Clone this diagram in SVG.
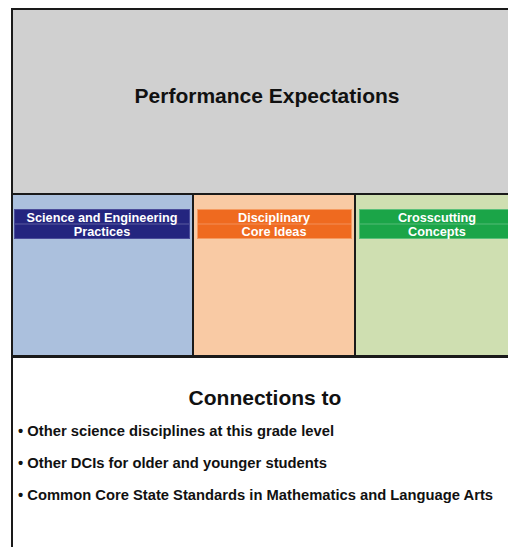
<svg xmlns="http://www.w3.org/2000/svg" width="508" height="547" viewBox="0 0 508 547">
<style>
.t{font-family:"Liberation Sans",Arial,sans-serif;font-weight:bold}
.lbl{font-family:"Liberation Sans",Arial,sans-serif;font-weight:bold;font-size:12.7px;fill:#fff;text-anchor:middle}
.b{font-family:"Liberation Sans",Arial,sans-serif;font-weight:bold;font-size:14.3px;fill:#111}
.sep{stroke:#fff;stroke-opacity:0.25;stroke-width:1}
</style>
<rect x="0" y="0" width="508" height="547" fill="#fff"/>
<g id="performance-expectations">
<rect x="12" y="9" width="510" height="185" fill="#d0d0d0" stroke="#1a1a1a" stroke-width="2"/>
<text class="t" x="267" y="103" font-size="21" text-anchor="middle" fill="#111">Performance Expectations</text>
</g>
<g id="science-engineering-practices">
<rect x="12" y="194" width="181" height="162" fill="#abc0dd" stroke="#1a1a1a" stroke-width="2"/>
<rect x="14.5" y="209.5" width="175" height="29" fill="#24257f" stroke="#4a4c9a" stroke-width="1"/>
<line class="sep" x1="15" y1="224" x2="189" y2="224"/>
<text class="lbl" x="102" y="222">Science and Engineering</text>
<text class="lbl" x="102" y="236">Practices</text>
</g>
<g id="disciplinary-core-ideas">
<rect x="193" y="194" width="162" height="162" fill="#f9caa4" stroke="#1a1a1a" stroke-width="2"/>
<rect x="197.5" y="209.5" width="154" height="29" fill="#ef6a1f" stroke="#f59a60" stroke-width="1"/>
<line class="sep" x1="198" y1="224" x2="351" y2="224"/>
<text class="lbl" x="274" y="222">Disciplinary</text>
<text class="lbl" x="274" y="236">Core Ideas</text>
</g>
<g id="crosscutting-concepts">
<rect x="355" y="194" width="167" height="162" fill="#cfdfb1" stroke="#1a1a1a" stroke-width="2"/>
<rect x="359.5" y="209.5" width="160" height="29" fill="#1ba548" stroke="#5ac07a" stroke-width="1"/>
<line class="sep" x1="360" y1="224" x2="519" y2="224"/>
<text class="lbl" x="437" y="222">Crosscutting</text>
<text class="lbl" x="437" y="236">Concepts</text>
</g>
<g id="connections-to">
<rect x="12" y="357" width="510" height="200" fill="#fff" stroke="#1a1a1a" stroke-width="2"/>
<line x1="12" y1="356.5" x2="508" y2="356.5" stroke="#1a1a1a" stroke-width="3"/>
<text class="t" x="265" y="405" font-size="21" text-anchor="middle" fill="#111">Connections to</text>
<text class="b" x="18" y="436" textLength="316" lengthAdjust="spacingAndGlyphs">• Other science disciplines at this grade level</text>
<text class="b" x="18" y="468" textLength="309" lengthAdjust="spacingAndGlyphs">• Other DCIs for older and younger students</text>
<text class="b" x="18" y="500" textLength="475" lengthAdjust="spacingAndGlyphs">• Common Core State Standards in Mathematics and Language Arts</text>
</g>
<g id="connectors"></g>
</svg>
